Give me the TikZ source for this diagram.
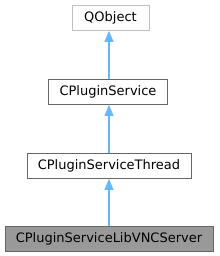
\documentclass[tikz,border=0pt]{standalone}
\usepackage{fontspec}
\setmainfont{DejaVu Sans}
\usetikzlibrary{arrows.meta}
\definecolor{edgeblue}{HTML}{63B8FF}
\definecolor{boxborder}{HTML}{666666}
\definecolor{extborder}{HTML}{BFBFBF}
\definecolor{curfill}{HTML}{999999}
\tikzset{
  cls/.style={draw=boxborder, line width=0.9pt, fill=white, minimum height=25pt,
    inner sep=0pt, font=\fontsize{13pt}{15pt}\selectfont, text=black, anchor=north},
  extcls/.style={cls, draw=extborder},
  curcls/.style={cls, fill=curfill},
  inh/.style={color=edgeblue, line width=1.1pt, -{Triangle[length=11pt,width=9pt]}}
}
\begin{document}
\begin{tikzpicture}[x=1pt,y=1pt]
\useasboundingbox (0,0) rectangle (219,-256);
\node[extcls, minimum width=77pt] (qobj) at (110.5,-5) {QObject};
\node[cls, minimum width=119pt] (ps) at (108,-79) {CPluginService};
\node[cls, minimum width=164pt] (pst) at (109,-153) {CPluginServiceThread};
\node[curcls, minimum width=208pt] (vnc) at (109,-226) {CPluginServiceLibVNCServer};
\draw[inh] (vnc.north -| 109,0) -- (pst.south -| 109,0);
\draw[inh] (pst.north -| 109,0) -- (ps.south -| 109,0);
\draw[inh] (ps.north -| 109,0) -- (qobj.south -| 109,0);
\end{tikzpicture}
\end{document}
